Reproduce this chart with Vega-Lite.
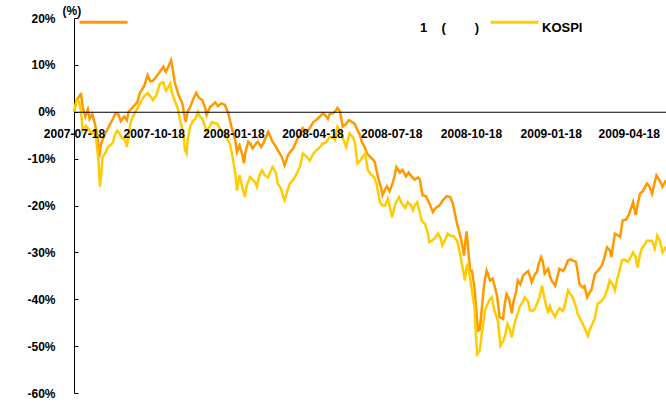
{
"$schema": "https://vega.github.io/schema/vega-lite/v6.json",
"width": 592, "height": 375,
"autosize": {"type": "none"},
"padding": {"left": 74, "top": 18, "right": 0, "bottom": 10},
"background": "white",
"config": {"view": {"stroke": null}, "font": "Liberation Sans"},
"datasets": {
"fund": [{"d":"2007-07-18","v":0},{"d":"2007-07-21","v":2.5},{"d":"2007-07-25","v":3.5},{"d":"2007-07-26","v":4},{"d":"2007-07-28","v":1},{"d":"2007-07-31","v":-1},{"d":"2007-08-03","v":0.5},{"d":"2007-08-05","v":-1.5},{"d":"2007-08-08","v":-0.5},{"d":"2007-08-11","v":-2.5},{"d":"2007-08-14","v":-5},{"d":"2007-08-16","v":-9.7},{"d":"2007-08-18","v":-7},{"d":"2007-08-22","v":-5},{"d":"2007-08-25","v":-4},{"d":"2007-08-29","v":-2.5},{"d":"2007-09-01","v":-1.5},{"d":"2007-09-04","v":-0.3},{"d":"2007-09-07","v":-0.5},{"d":"2007-09-10","v":-2},{"d":"2007-09-14","v":-1},{"d":"2007-09-17","v":-1.8},{"d":"2007-09-19","v":0},{"d":"2007-09-24","v":1},{"d":"2007-09-29","v":2},{"d":"2007-10-02","v":4},{"d":"2007-10-07","v":5.5},{"d":"2007-10-11","v":7.8},{"d":"2007-10-14","v":6.5},{"d":"2007-10-17","v":6.6},{"d":"2007-10-21","v":7.5},{"d":"2007-10-25","v":8.5},{"d":"2007-10-29","v":9.6},{"d":"2007-11-01","v":8.5},{"d":"2007-11-03","v":9.3},{"d":"2007-11-07","v":11},{"d":"2007-11-09","v":9},{"d":"2007-11-11","v":6.4},{"d":"2007-11-15","v":4},{"d":"2007-11-17","v":3},{"d":"2007-11-20","v":1.8},{"d":"2007-11-22","v":-0.5},{"d":"2007-11-24","v":-2.2},{"d":"2007-11-26","v":0},{"d":"2007-11-29","v":1},{"d":"2007-12-02","v":2.5},{"d":"2007-12-06","v":4},{"d":"2007-12-09","v":3},{"d":"2007-12-13","v":2.5},{"d":"2007-12-16","v":1},{"d":"2007-12-18","v":-0.7},{"d":"2007-12-22","v":1},{"d":"2007-12-25","v":1.5},{"d":"2007-12-28","v":2},{"d":"2007-12-31","v":1.2},{"d":"2008-01-04","v":1.8},{"d":"2008-01-08","v":1.5},{"d":"2008-01-12","v":-0.3},{"d":"2008-01-16","v":-3.5},{"d":"2008-01-20","v":-6},{"d":"2008-01-22","v":-8.6},{"d":"2008-01-25","v":-7.2},{"d":"2008-01-28","v":-9},{"d":"2008-01-30","v":-11},{"d":"2008-02-01","v":-8.5},{"d":"2008-02-04","v":-6.4},{"d":"2008-02-07","v":-7},{"d":"2008-02-09","v":-7.8},{"d":"2008-02-13","v":-6.8},{"d":"2008-02-15","v":-6.4},{"d":"2008-02-19","v":-7.5},{"d":"2008-02-22","v":-6.5},{"d":"2008-02-27","v":-4.3},{"d":"2008-03-01","v":-5.5},{"d":"2008-03-03","v":-6.4},{"d":"2008-03-07","v":-7.5},{"d":"2008-03-09","v":-8.2},{"d":"2008-03-14","v":-9.7},{"d":"2008-03-17","v":-11.4},{"d":"2008-03-21","v":-9.2},{"d":"2008-03-24","v":-8.5},{"d":"2008-03-27","v":-7.8},{"d":"2008-03-30","v":-6.5},{"d":"2008-04-01","v":-5.7},{"d":"2008-04-05","v":-4.5},{"d":"2008-04-07","v":-3.5},{"d":"2008-04-11","v":-4.2},{"d":"2008-04-14","v":-3.8},{"d":"2008-04-19","v":-2.2},{"d":"2008-04-22","v":-1.8},{"d":"2008-04-24","v":-1.5},{"d":"2008-04-28","v":-0.8},{"d":"2008-04-30","v":-0.3},{"d":"2008-05-04","v":-1},{"d":"2008-05-06","v":-1.5},{"d":"2008-05-08","v":-0.5},{"d":"2008-05-12","v":-0.3},{"d":"2008-05-14","v":0},{"d":"2008-05-17","v":0.8},{"d":"2008-05-20","v":0},{"d":"2008-05-23","v":-3.2},{"d":"2008-05-27","v":-2.6},{"d":"2008-05-30","v":-1.8},{"d":"2008-06-03","v":-2.2},{"d":"2008-06-06","v":-2.6},{"d":"2008-06-08","v":-3.5},{"d":"2008-06-12","v":-5},{"d":"2008-06-14","v":-6.4},{"d":"2008-06-18","v":-7.8},{"d":"2008-06-20","v":-8.9},{"d":"2008-06-23","v":-9.5},{"d":"2008-06-27","v":-10.2},{"d":"2008-06-29","v":-10.7},{"d":"2008-07-03","v":-14.2},{"d":"2008-07-06","v":-16},{"d":"2008-07-08","v":-17.8},{"d":"2008-07-11","v":-16.5},{"d":"2008-07-13","v":-15.9},{"d":"2008-07-16","v":-17},{"d":"2008-07-20","v":-15},{"d":"2008-07-22","v":-13.5},{"d":"2008-07-24","v":-11.8},{"d":"2008-07-28","v":-13},{"d":"2008-07-31","v":-12.4},{"d":"2008-08-04","v":-13.8},{"d":"2008-08-07","v":-13},{"d":"2008-08-11","v":-13.9},{"d":"2008-08-14","v":-14.5},{"d":"2008-08-18","v":-14},{"d":"2008-08-20","v":-14.4},{"d":"2008-08-23","v":-17.8},{"d":"2008-08-27","v":-18},{"d":"2008-08-31","v":-19.5},{"d":"2008-09-04","v":-21.4},{"d":"2008-09-07","v":-20.6},{"d":"2008-09-12","v":-19.9},{"d":"2008-09-15","v":-19},{"d":"2008-09-20","v":-18},{"d":"2008-09-24","v":-18.2},{"d":"2008-09-27","v":-19.5},{"d":"2008-10-02","v":-24},{"d":"2008-10-05","v":-26},{"d":"2008-10-07","v":-27.5},{"d":"2008-10-10","v":-30.7},{"d":"2008-10-12","v":-27},{"d":"2008-10-13","v":-25.5},{"d":"2008-10-17","v":-33.9},{"d":"2008-10-19","v":-33.9},{"d":"2008-10-22","v":-37.4},{"d":"2008-10-26","v":-46.7},{"d":"2008-10-28","v":-46.5},{"d":"2008-10-30","v":-43},{"d":"2008-11-02","v":-37.1},{"d":"2008-11-05","v":-33.9},{"d":"2008-11-09","v":-36},{"d":"2008-11-12","v":-35.6},{"d":"2008-11-14","v":-37},{"d":"2008-11-17","v":-39.2},{"d":"2008-11-20","v":-43.8},{"d":"2008-11-24","v":-44.2},{"d":"2008-11-26","v":-41},{"d":"2008-11-28","v":-38.9},{"d":"2008-12-01","v":-40},{"d":"2008-12-04","v":-43},{"d":"2008-12-06","v":-40.5},{"d":"2008-12-09","v":-38.5},{"d":"2008-12-11","v":-36},{"d":"2008-12-14","v":-36.8},{"d":"2008-12-17","v":-35},{"d":"2008-12-19","v":-34.6},{"d":"2008-12-23","v":-34},{"d":"2008-12-25","v":-35},{"d":"2008-12-27","v":-36.4},{"d":"2008-12-31","v":-34.6},{"d":"2009-01-02","v":-34.2},{"d":"2009-01-04","v":-32.5},{"d":"2009-01-07","v":-31},{"d":"2009-01-09","v":-32},{"d":"2009-01-11","v":-34.5},{"d":"2009-01-15","v":-33.5},{"d":"2009-01-17","v":-35},{"d":"2009-01-19","v":-36},{"d":"2009-01-23","v":-37.1},{"d":"2009-01-26","v":-35},{"d":"2009-01-28","v":-33.5},{"d":"2009-02-01","v":-34},{"d":"2009-02-03","v":-33.5},{"d":"2009-02-07","v":-31.7},{"d":"2009-02-10","v":-31.5},{"d":"2009-02-12","v":-31.7},{"d":"2009-02-16","v":-32},{"d":"2009-02-18","v":-34},{"d":"2009-02-20","v":-36.7},{"d":"2009-02-24","v":-37.5},{"d":"2009-02-26","v":-37.2},{"d":"2009-03-01","v":-39.6},{"d":"2009-03-04","v":-38.5},{"d":"2009-03-06","v":-38},{"d":"2009-03-10","v":-34.6},{"d":"2009-03-13","v":-34},{"d":"2009-03-18","v":-32.8},{"d":"2009-03-21","v":-31},{"d":"2009-03-24","v":-28.9},{"d":"2009-03-27","v":-29.5},{"d":"2009-03-29","v":-31},{"d":"2009-04-02","v":-26},{"d":"2009-04-05","v":-26.3},{"d":"2009-04-08","v":-26.7},{"d":"2009-04-11","v":-23.2},{"d":"2009-04-15","v":-23},{"d":"2009-04-18","v":-22},{"d":"2009-04-20","v":-21},{"d":"2009-04-23","v":-19.3},{"d":"2009-04-26","v":-22},{"d":"2009-04-28","v":-20},{"d":"2009-05-01","v":-17.5},{"d":"2009-05-04","v":-17},{"d":"2009-05-09","v":-15.3},{"d":"2009-05-12","v":-16},{"d":"2009-05-15","v":-17.5},{"d":"2009-05-18","v":-15},{"d":"2009-05-20","v":-13.6},{"d":"2009-05-24","v":-14.8},{"d":"2009-05-27","v":-16},{"d":"2009-05-31","v":-14.6}],
"kospi": [{"d":"2007-07-18","v":0},{"d":"2007-07-20","v":1.5},{"d":"2007-07-21","v":2.5},{"d":"2007-07-24","v":2},{"d":"2007-07-26","v":0},{"d":"2007-07-27","v":-1.5},{"d":"2007-07-28","v":-4},{"d":"2007-08-01","v":-3},{"d":"2007-08-03","v":-3.5},{"d":"2007-08-05","v":-4},{"d":"2007-08-08","v":-4.6},{"d":"2007-08-10","v":-4},{"d":"2007-08-12","v":-5},{"d":"2007-08-15","v":-10},{"d":"2007-08-17","v":-16},{"d":"2007-08-19","v":-12},{"d":"2007-08-20","v":-9.7},{"d":"2007-08-24","v":-8.5},{"d":"2007-08-26","v":-7.5},{"d":"2007-08-30","v":-7},{"d":"2007-09-01","v":-6.5},{"d":"2007-09-03","v":-5},{"d":"2007-09-06","v":-4},{"d":"2007-09-08","v":-4.5},{"d":"2007-09-11","v":-5.5},{"d":"2007-09-15","v":-6},{"d":"2007-09-17","v":-7.5},{"d":"2007-09-21","v":-2.5},{"d":"2007-09-24","v":-1},{"d":"2007-09-26","v":-0.3},{"d":"2007-09-30","v":1},{"d":"2007-10-04","v":2.5},{"d":"2007-10-08","v":3.5},{"d":"2007-10-11","v":4},{"d":"2007-10-14","v":3.3},{"d":"2007-10-17","v":2.5},{"d":"2007-10-21","v":3.5},{"d":"2007-10-25","v":6},{"d":"2007-10-29","v":6.3},{"d":"2007-11-01","v":4.5},{"d":"2007-11-03","v":5},{"d":"2007-11-06","v":6},{"d":"2007-11-08","v":4},{"d":"2007-11-11","v":2.5},{"d":"2007-11-15","v":0.5},{"d":"2007-11-17","v":-1.5},{"d":"2007-11-21","v":-4.5},{"d":"2007-11-23","v":-8.2},{"d":"2007-11-25","v":-8.9},{"d":"2007-11-26","v":-6},{"d":"2007-11-29","v":-3.2},{"d":"2007-12-02","v":-2},{"d":"2007-12-05","v":-1.5},{"d":"2007-12-08","v":0},{"d":"2007-12-10","v":-1},{"d":"2007-12-13","v":-1.4},{"d":"2007-12-16","v":-3},{"d":"2007-12-18","v":-4.3},{"d":"2007-12-22","v":-3},{"d":"2007-12-24","v":-2.2},{"d":"2007-12-28","v":-2.5},{"d":"2007-12-30","v":-2.5},{"d":"2008-01-02","v":-3.5},{"d":"2008-01-05","v":-4.3},{"d":"2008-01-08","v":-4.5},{"d":"2008-01-10","v":-5.4},{"d":"2008-01-14","v":-7},{"d":"2008-01-17","v":-9.7},{"d":"2008-01-20","v":-13},{"d":"2008-01-22","v":-16.8},{"d":"2008-01-25","v":-13.5},{"d":"2008-01-28","v":-16},{"d":"2008-01-31","v":-18.2},{"d":"2008-02-02","v":-16},{"d":"2008-02-06","v":-13.9},{"d":"2008-02-09","v":-14.5},{"d":"2008-02-12","v":-15},{"d":"2008-02-14","v":-16},{"d":"2008-02-17","v":-13.5},{"d":"2008-02-20","v":-12.5},{"d":"2008-02-23","v":-13.5},{"d":"2008-02-27","v":-14},{"d":"2008-02-29","v":-13},{"d":"2008-03-03","v":-11.8},{"d":"2008-03-07","v":-13},{"d":"2008-03-09","v":-15.2},{"d":"2008-03-13","v":-16.5},{"d":"2008-03-15","v":-18},{"d":"2008-03-17","v":-18.9},{"d":"2008-03-20","v":-17},{"d":"2008-03-23","v":-15.3},{"d":"2008-03-27","v":-14.5},{"d":"2008-03-31","v":-13.2},{"d":"2008-04-04","v":-11.5},{"d":"2008-04-07","v":-8.9},{"d":"2008-04-11","v":-9.5},{"d":"2008-04-15","v":-10.4},{"d":"2008-04-19","v":-9},{"d":"2008-04-23","v":-8.2},{"d":"2008-04-27","v":-7.5},{"d":"2008-04-30","v":-6.8},{"d":"2008-05-04","v":-6.5},{"d":"2008-05-08","v":-5.4},{"d":"2008-05-12","v":-5.5},{"d":"2008-05-14","v":-6},{"d":"2008-05-17","v":-3.2},{"d":"2008-05-20","v":-4},{"d":"2008-05-23","v":-5.5},{"d":"2008-05-27","v":-7.5},{"d":"2008-05-29","v":-6},{"d":"2008-05-31","v":-4.6},{"d":"2008-06-04","v":-5.5},{"d":"2008-06-06","v":-6.5},{"d":"2008-06-09","v":-11.1},{"d":"2008-06-12","v":-10.5},{"d":"2008-06-14","v":-9.8},{"d":"2008-06-18","v":-8.9},{"d":"2008-06-21","v":-12.5},{"d":"2008-06-24","v":-13.2},{"d":"2008-06-28","v":-14},{"d":"2008-07-01","v":-15.3},{"d":"2008-07-05","v":-19.3},{"d":"2008-07-08","v":-20},{"d":"2008-07-11","v":-20},{"d":"2008-07-14","v":-18.6},{"d":"2008-07-16","v":-20},{"d":"2008-07-19","v":-22.5},{"d":"2008-07-21","v":-21},{"d":"2008-07-23","v":-19.5},{"d":"2008-07-27","v":-18.2},{"d":"2008-07-30","v":-19.5},{"d":"2008-08-03","v":-20.5},{"d":"2008-08-06","v":-19.3},{"d":"2008-08-10","v":-20},{"d":"2008-08-12","v":-21},{"d":"2008-08-14","v":-20},{"d":"2008-08-17","v":-19.3},{"d":"2008-08-20","v":-21.5},{"d":"2008-08-22","v":-23.2},{"d":"2008-08-26","v":-24},{"d":"2008-08-29","v":-25.7},{"d":"2008-08-31","v":-27.8},{"d":"2008-09-03","v":-27.5},{"d":"2008-09-06","v":-27},{"d":"2008-09-10","v":-26},{"d":"2008-09-13","v":-27},{"d":"2008-09-15","v":-28.5},{"d":"2008-09-19","v":-27},{"d":"2008-09-21","v":-26},{"d":"2008-09-25","v":-26.5},{"d":"2008-09-28","v":-26.5},{"d":"2008-10-02","v":-27.5},{"d":"2008-10-05","v":-30},{"d":"2008-10-09","v":-33.9},{"d":"2008-10-11","v":-36},{"d":"2008-10-13","v":-33},{"d":"2008-10-14","v":-32.4},{"d":"2008-10-17","v":-35.5},{"d":"2008-10-19","v":-38.1},{"d":"2008-10-22","v":-41.7},{"d":"2008-10-25","v":-51.7},{"d":"2008-10-28","v":-51},{"d":"2008-10-30","v":-48.1},{"d":"2008-11-03","v":-42.4},{"d":"2008-11-06","v":-41},{"d":"2008-11-09","v":-40},{"d":"2008-11-11","v":-39.6},{"d":"2008-11-14","v":-42.4},{"d":"2008-11-18","v":-44.6},{"d":"2008-11-21","v":-49.9},{"d":"2008-11-24","v":-49},{"d":"2008-11-26","v":-48.1},{"d":"2008-11-29","v":-45.3},{"d":"2008-12-02","v":-46.5},{"d":"2008-12-04","v":-48.1},{"d":"2008-12-08","v":-44.6},{"d":"2008-12-11","v":-43},{"d":"2008-12-13","v":-41.7},{"d":"2008-12-17","v":-40.5},{"d":"2008-12-19","v":-39.6},{"d":"2008-12-23","v":-40.5},{"d":"2008-12-25","v":-42.4},{"d":"2008-12-28","v":-42.5},{"d":"2008-12-31","v":-42},{"d":"2009-01-03","v":-40.5},{"d":"2009-01-05","v":-39.6},{"d":"2009-01-08","v":-37.1},{"d":"2009-01-11","v":-40},{"d":"2009-01-15","v":-43},{"d":"2009-01-17","v":-41.5},{"d":"2009-01-19","v":-42.5},{"d":"2009-01-23","v":-43.8},{"d":"2009-01-26","v":-42.5},{"d":"2009-01-28","v":-41.9},{"d":"2009-02-01","v":-42.5},{"d":"2009-02-03","v":-41.5},{"d":"2009-02-07","v":-38.1},{"d":"2009-02-10","v":-39},{"d":"2009-02-12","v":-39.5},{"d":"2009-02-16","v":-41.5},{"d":"2009-02-18","v":-43.1},{"d":"2009-02-22","v":-44.5},{"d":"2009-02-24","v":-45.3},{"d":"2009-02-27","v":-46.5},{"d":"2009-03-02","v":-47.8},{"d":"2009-03-04","v":-46.5},{"d":"2009-03-07","v":-45.3},{"d":"2009-03-10","v":-44},{"d":"2009-03-13","v":-41},{"d":"2009-03-17","v":-40.5},{"d":"2009-03-21","v":-39.6},{"d":"2009-03-25","v":-37.5},{"d":"2009-03-27","v":-36},{"d":"2009-03-31","v":-37},{"d":"2009-04-02","v":-38.1},{"d":"2009-04-05","v":-35.5},{"d":"2009-04-08","v":-33.5},{"d":"2009-04-10","v":-31.7},{"d":"2009-04-13","v":-31.5},{"d":"2009-04-17","v":-32},{"d":"2009-04-19","v":-31.5},{"d":"2009-04-23","v":-30},{"d":"2009-04-26","v":-31},{"d":"2009-04-28","v":-33.2},{"d":"2009-05-01","v":-30.5},{"d":"2009-05-03","v":-29.2},{"d":"2009-05-06","v":-28.5},{"d":"2009-05-09","v":-27.5},{"d":"2009-05-12","v":-27.5},{"d":"2009-05-15","v":-27.5},{"d":"2009-05-18","v":-29.2},{"d":"2009-05-21","v":-26.4},{"d":"2009-05-24","v":-27.5},{"d":"2009-05-27","v":-30},{"d":"2009-05-31","v":-28.8}]
},
"encoding": {
  "x": {"field": "d", "type": "temporal",
    "scale": {"type": "utc", "domain": [{"year": 2007, "month": 7, "date": 18, "utc": true}, {"year": 2009, "month": 5, "date": 31, "utc": true}]},
    "axis": {"title": null, "grid": false, "ticks": false, "offset": -281.25, "zindex": 1, "domainColor": "black", "domainWidth": 1,
      "values": [{"year":2007,"month":7,"date":18,"utc":true},{"year":2007,"month":10,"date":18,"utc":true},{"year":2008,"month":1,"date":18,"utc":true},{"year":2008,"month":4,"date":18,"utc":true},{"year":2008,"month":7,"date":18,"utc":true},{"year":2008,"month":10,"date":18,"utc":true},{"year":2009,"month":1,"date":18,"utc":true},{"year":2009,"month":4,"date":18,"utc":true}],
      "labelExpr": "utcFormat(datum.value, '%Y-%m-%d')", "labelPadding": 17, "labelFont": "Liberation Sans", "labelFontSize": 12, "labelFontWeight": "bold", "labelColor": "black", "labelFlush": false, "labelOverlap": false, "labelBound": false}},
  "y": {"field": "v", "type": "quantitative",
    "scale": {"domain": [-60, 20], "nice": false, "zero": false},
    "axis": {"grid": false, "values": [20, 10, 0, -10, -20, -30, -40, -50, -60], "labelExpr": "datum.value + '%'",
      "title": "(%)", "titleAngle": 0, "titleAlign": "left", "titleBaseline": "middle", "titleX": -12, "titleY": -8,
      "titleFont": "Liberation Sans", "titleFontSize": 12, "titleFontWeight": "bold", "titleColor": "black",
      "labelFont": "Liberation Sans", "labelFontSize": 12, "labelFontWeight": "bold", "labelColor": "black",
      "tickSize": -4, "tickColor": "black", "labelPadding": 23, "domainColor": "black", "domainWidth": 1,
      "labelFlush": false, "labelOverlap": false, "labelBound": false}}
},
"layer": [
  {"data": {"name": "fund"}, "mark": {"type": "line", "strokeWidth": 2.5},
   "encoding": {"color": {"datum": "1 ( )",
     "scale": {"domain": ["1 ( )", "KOSPI"], "range": ["#FF9900", "#FFCC00"]},
     "legend": {"title": null, "orient": "none", "legendX": 4, "legendY": -21.5, "direction": "horizontal",
       "symbolType": "stroke", "symbolSize": 2304, "symbolStrokeWidth": 3, "labelOffset": 2, "columnPadding": 4,
       "labelFont": "Liberation Sans", "labelFontSize": 13, "labelFontWeight": "bold", "labelColor": "black", "labelLimit": 0, "labelBaseline": "top",
       "labelExpr": "datum.label == 'KOSPI' ? 'KOSPI' : '\u200b\u00a0\u00a0\u00a0\u00a0\u00a0\u00a0\u00a0\u00a0\u00a0\u00a0\u00a0\u00a0\u00a0\u00a0\u00a0\u00a0\u00a0\u00a0\u00a0\u00a0\u00a0\u00a0\u00a0\u00a0\u00a0\u00a0\u00a0\u00a0\u00a0\u00a0\u00a0\u00a0\u00a0\u00a0\u00a0\u00a0\u00a0\u00a0\u00a0\u00a0\u00a0\u00a0\u00a0\u00a0\u00a0\u00a0\u00a0\u00a0\u00a0\u00a0\u00a0\u00a0\u00a0\u00a0\u00a0\u00a0\u00a0\u00a0\u00a0\u00a0\u00a0\u00a0\u00a0\u00a0\u00a0\u00a0\u00a0\u00a0\u00a0\u00a0\u00a0\u00a0\u00a0\u00a0\u00a0\u00a0\u00a0\u00a0\u00a0\u00a01\u00a0\u00a0\u00a0\u00a0(\u00a0\u00a0\u00a0\u00a0\u00a0\u00a0\u00a0\u00a0)'"}}}},
  {"data": {"name": "kospi"}, "mark": {"type": "line", "strokeWidth": 2.5},
   "encoding": {"color": {"datum": "KOSPI"}}}
]
}
